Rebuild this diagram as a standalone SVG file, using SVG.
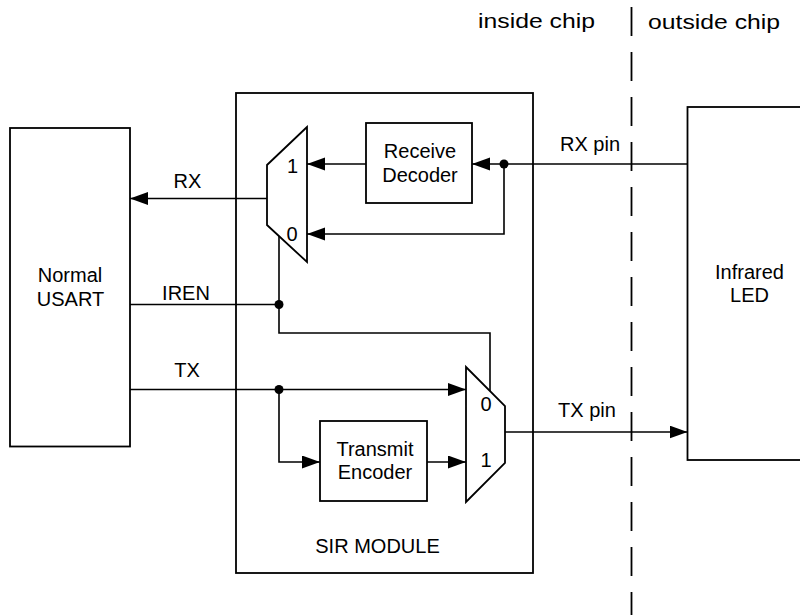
<svg xmlns="http://www.w3.org/2000/svg" width="800" height="615" viewBox="0 0 800 615">
<style>
.box{fill:#fff;stroke:#000;stroke-width:1.8}
.mux{fill:#fff;stroke:#000;stroke-width:1.8;stroke-linejoin:miter}
.w{fill:none;stroke:#000;stroke-width:1.6}
.t{font-family:"Liberation Sans",Arial,sans-serif;font-size:20px;fill:#000;text-anchor:middle}
.dot{fill:#000}
.dash{stroke:#000;stroke-width:1.8;stroke-dasharray:29 16;fill:none}
</style>
<defs>
<marker id="arr" markerUnits="userSpaceOnUse" markerWidth="18" markerHeight="14" refX="18" refY="6.5" orient="auto">
<path d="M0,0 L18,6.5 L0,13 z" fill="#000"/>
</marker>
</defs>
<rect width="800" height="615" fill="#fff"/>
<g id="boundary">
<line class="dash" x1="631.5" y1="7" x2="631.5" y2="615"/>
<text class="t" x="536.5" y="28" style="font-size:21px" textLength="117" lengthAdjust="spacingAndGlyphs">inside chip</text>
<text class="t" x="714" y="29" style="font-size:21px" textLength="132" lengthAdjust="spacingAndGlyphs">outside chip</text>
</g>
<g id="sir-module">
<rect class="box" x="236" y="93" width="297" height="480"/>
<text class="t" x="377.5" y="553">SIR MODULE</text>
</g>
<g id="usart">
<rect class="box" x="10" y="128" width="120" height="318.5"/>
<text class="t" x="70" y="281.5">Normal</text>
<text class="t" x="70.5" y="305.5">USART</text>
</g>
<g id="led">
<rect class="box" x="687.5" y="107" width="130" height="353"/>
<text class="t" x="749.5" y="278.5">Infrared</text>
<text class="t" x="749.5" y="302">LED</text>
</g>
<g id="receive-decoder">
<rect class="box" x="366" y="123" width="106" height="80"/>
<text class="t" x="420" y="158">Receive</text>
<text class="t" x="420" y="181.5">Decoder</text>
</g>
<g id="transmit-encoder">
<rect class="box" x="320" y="421" width="107" height="80"/>
<text class="t" x="375" y="455.5">Transmit</text>
<text class="t" x="375" y="479">Encoder</text>
</g>
<g id="rx-mux">
<polygon class="mux" points="307,127 267,165 267,225 307,262"/>
<text class="t" x="292.5" y="173">1</text>
<text class="t" x="292" y="240.5">0</text>
</g>
<g id="tx-mux">
<polygon class="mux" points="466,367 505,406 505,463 466,502"/>
<text class="t" x="486" y="410.5">0</text>
<text class="t" x="486" y="466.5">1</text>
</g>
<g id="connectors">
<line class="w" x1="267" y1="198.5" x2="130" y2="198.5" marker-end="url(#arr)"/>
<text class="t" x="187.5" y="188">RX</text>
<line class="w" x1="130" y1="304.5" x2="279" y2="304.5"/>
<text class="t" x="186" y="300">IREN</text>
<polyline class="w" points="279,236 279,333 490,333 490,391"/>
<circle class="dot" cx="279" cy="304.5" r="4.5"/>
<line class="w" x1="130" y1="389.5" x2="466" y2="389.5" marker-end="url(#arr)"/>
<text class="t" x="187" y="377">TX</text>
<circle class="dot" cx="279" cy="389.5" r="4.5"/>
<polyline class="w" points="279,389.5 279,462 320,462" marker-end="url(#arr)"/>
<line class="w" x1="427" y1="462" x2="466" y2="462" marker-end="url(#arr)"/>
<line class="w" x1="505" y1="432" x2="687.5" y2="432" marker-end="url(#arr)"/>
<text class="t" x="587" y="417">TX pin</text>
<line class="w" x1="687.5" y1="164" x2="472" y2="164" marker-end="url(#arr)"/>
<text class="t" x="590" y="151">RX pin</text>
<circle class="dot" cx="504" cy="164" r="4.5"/>
<line class="w" x1="366" y1="164" x2="307" y2="164" marker-end="url(#arr)"/>
<polyline class="w" points="504,164 504,234 307,234" marker-end="url(#arr)"/>
</g>
</svg>
